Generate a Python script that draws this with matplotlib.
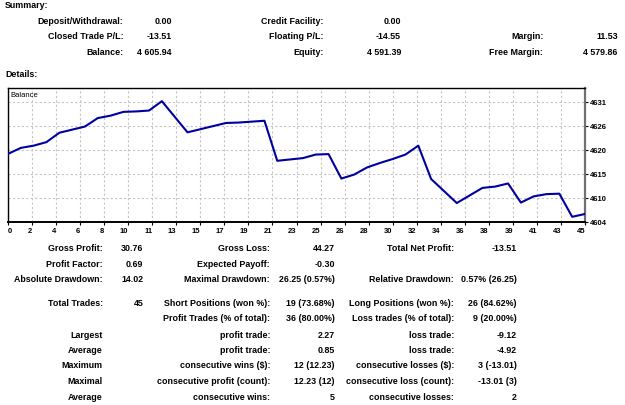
import numpy as np
import matplotlib.pyplot as plt

# --- canvas in pixels ---
W, H = 625, 406

# =============================================================================
# DATA
# =============================================================================
trade_no = np.arange(46)
balance = [4619.45, 4620.8, 4621.3, 4622.1, 4624.2, 4624.9, 4625.6, 4627.5,
           4628.05, 4628.9, 4629.0, 4629.2, 4631.3, 4627.8, 4624.3, 4625.0,
           4625.7, 4626.4, 4626.5, 4626.7, 4626.9, 4617.9, 4618.2, 4618.5,
           4619.3, 4619.4, 4613.9, 4614.8, 4616.4, 4617.4, 4618.3, 4619.3,
           4621.3, 4613.8, 4611.1, 4608.4, 4610.1, 4611.8, 4612.1, 4612.8,
           4608.5, 4609.9, 4610.4, 4610.5, 4605.3, 4605.94]

x_tick_labels = ['0', '2', '4', '6', '8', '10', '11', '13', '15', '17', '19', '21',
                 '23', '25', '26', '28', '30', '32', '34', '36', '38', '39', '41',
                 '43', '45']
y_tick_values = [4604.2, 4609.6, 4615.0, 4620.4, 4625.8, 4631.2]
y_tick_labels = ['4604', '4610', '4615', '4620', '4626', '4631']
y_limits = (4604.2, 4634.2)

summary_labels_1 = ['Deposit/Withdrawal:', 'Closed Trade P/L:', 'Balance:']
summary_values_1 = ['0.00', '-13.51', '4 605.94']
summary_labels_2 = ['Credit Facility:', 'Floating P/L:', 'Equity:']
summary_values_2 = ['0.00', '-14.55', '4 591.39']
summary_labels_3 = ['', 'Margin:', 'Free Margin:']
summary_values_3 = ['', '11.53', '4 579.86']

details_labels_1 = ['Gross Profit:', 'Profit Factor:', 'Absolute Drawdown:', 'Total Trades:',
                    '', 'Largest', 'Average', 'Maximum', 'Maximal', 'Average']
details_values_1 = ['30.76', '0.69', '14.02', '45', '', '', '', '', '', '']
details_labels_2 = ['Gross Loss:', 'Expected Payoff:', 'Maximal Drawdown:',
                    'Short Positions (won %):', 'Profit Trades (% of total):',
                    'profit trade:', 'profit trade:', 'consecutive wins ($):',
                    'consecutive profit (count):', 'consecutive wins:']
details_values_2 = ['44.27', '-0.30', '26.25 (0.57%)', '19 (73.68%)', '36 (80.00%)',
                    '2.27', '0.85', '12 (12.23)', '12.23 (12)', '5']
details_labels_3 = ['Total Net Profit:', '', 'Relative Drawdown:', 'Long Positions (won %):',
                    'Loss trades (% of total):', 'loss trade:', 'loss trade:',
                    'consecutive losses ($):', 'consecutive loss (count):', 'consecutive losses:']
details_values_3 = ['-13.51', '', '0.57% (26.25)', '26 (84.62%)', '9 (20.00%)',
                    '-9.12', '-4.92', '3 (-13.01)', '-13.01 (3)', '2']

# =============================================================================
# LAYOUT
# =============================================================================
plt.rcParams['font.family'] = ['Liberation Sans', 'DejaVu Sans']
FS = 6.4

fig = plt.figure(figsize=(W / 100, H / 100), dpi=100)
fig.patch.set_facecolor('white')


def put(px, py, s, ha='right', **kw):
    fig.text(px / W, 1 - py / H, s, ha=ha, va='center', fontsize=FS,
             fontweight='bold', color='black', **kw)


# Summary
put(5, 6, 'Summary:', ha='left')
summary_rows = [21.7, 36.7, 52.3]
for labels, values, lx, vx in [(summary_labels_1, summary_values_1, 123.3, 171.7),
                               (summary_labels_2, summary_values_2, 323.3, 401),
                               (summary_labels_3, summary_values_3, 543.3, 617.7)]:
    for y, lab, val in zip(summary_rows, labels, values):
        put(lx, y, lab)
        put(vx, y, val)

put(5, 75, 'Details:', ha='left')

# Details table
details_rows = [249, 264.3, 280, 303.3, 319, 335, 350.7, 366, 381.7, 397.7]
for labels, values, lx, vx in [(details_labels_1, details_values_1, 102.7, 143.3),
                               (details_labels_2, details_values_2, 270, 335),
                               (details_labels_3, details_values_3, 454, 516.7)]:
    for y, lab, val in zip(details_rows, labels, values):
        put(lx, y, lab)
        put(vx, y, val)

# =============================================================================
# BALANCE CHART
# =============================================================================
left, right, top, bottom = 8, 585, 89.3, 222.7
ax = fig.add_axes([left / W, 1 - bottom / H, (right - left) / W, (bottom - top) / H])
ax.plot(trade_no, balance, color='#0000a0', lw=1.5, zorder=3)

ax.set_xlim(0, 45)
ax.set_ylim(*y_limits)

xt = np.arange(len(x_tick_labels)) * 45 / (len(x_tick_labels) - 1)
ax.set_xticks(xt)
ax.set_xticklabels(x_tick_labels, fontsize=5.5, fontweight='bold')
for i, t in enumerate(ax.get_xticklabels()):
    t.set_ha('left' if i == 0 else 'right')

ax.yaxis.tick_right()
ax.set_yticks(y_tick_values)
ax.set_yticklabels(y_tick_labels, fontsize=5.5, fontweight='bold')

ax.tick_params(axis='x', length=2, width=0.8, pad=1.5, color='black')
ax.tick_params(axis='y', length=2, width=0.8, pad=1.5, color='black')

ax.grid(True, color='#c4c4c4', linestyle=(0, (2, 2)), lw=0.8)
ax.set_axisbelow(True)

for side in ['top', 'left', 'bottom']:
    ax.spines[side].set_color('black')
    ax.spines[side].set_linewidth(1.0)
ax.spines['bottom'].set_linewidth(1.4)
ax.spines['right'].set_color('#707070')
ax.spines['right'].set_linewidth(1.6)

ax.text(0.004, 0.955, 'Balance', transform=ax.transAxes, fontsize=5.5,
        ha='left', va='center', color='black')

fig.savefig('out.png', dpi=100)
